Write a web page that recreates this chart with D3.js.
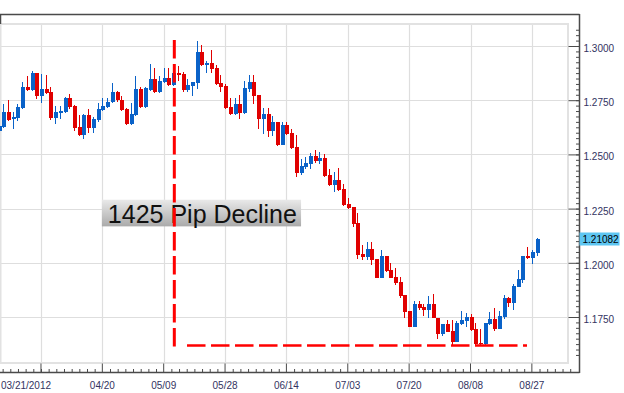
<!DOCTYPE html>
<html><head><meta charset="utf-8">
<script src="https://cdn.jsdelivr.net/npm/d3@7"></script>
<style>
body{margin:0;background:#fff}
svg{display:block;font-family:"Liberation Sans",Arial,sans-serif}
</style>
</head><body>
<svg id="c" width="624" height="393"></svg>
<script>
// ---- data (daily candles, 2012-03-21 .. 2012-08-28, weekdays) ----
const startDate = "2012-03-21", endDate = "2012-08-28";
const open  = [1.2608,1.2627,1.2696,1.2663,1.2668,1.2714,1.2811,1.2797,1.2876,1.2770,1.2802,1.2788,1.2668,1.2691,1.2696,1.2760,1.2723,1.2627,1.2590,1.2682,
               1.2622,1.2659,1.2705,1.2719,1.2742,1.2788,1.2751,1.2710,1.2640,1.2682,1.2802,1.2719,1.2797,1.2848,1.2788,1.2834,1.2853,1.2820,1.2876,1.2871,
               1.2797,1.2816,1.2829,1.2972,1.2912,1.2922,1.2899,1.2829,1.2816,1.2719,1.2687,1.2733,1.2691,1.2802,1.2834,1.2774,1.2663,1.2687,1.2608,1.2650,
               1.2544,1.2636,1.2599,1.2534,1.2415,1.2442,1.2456,1.2493,1.2470,1.2484,1.2405,1.2359,1.2382,1.2341,1.2272,1.2258,1.2184,1.2041,1.2027,1.2064,
               1.2018,1.1931,1.2032,1.1967,1.1935,1.1912,1.1852,1.1778,1.1705,1.1811,1.1797,1.1783,1.1811,1.1746,1.1672,1.1718,1.1686,1.1635,1.1718,1.1732,
               1.1751,1.1695,1.1631,1.1626,1.1718,1.1742,1.1695,1.1751,1.1838,1.1815,1.1889,1.1921,1.2032,1.2023,1.2046];
const high  = [1.2645,1.2733,1.2751,1.2696,1.2733,1.2834,1.2862,1.2885,1.2876,1.2871,1.2866,1.2811,1.2723,1.2723,1.2765,1.2779,1.2728,1.2682,1.2687,1.2710,
               1.2673,1.2737,1.2760,1.2760,1.2829,1.2793,1.2770,1.2714,1.2737,1.2862,1.2811,1.2811,1.2917,1.2899,1.2862,1.2899,1.2899,1.2889,1.2908,1.2880,
               1.2848,1.2834,1.3023,1.3005,1.2931,1.2982,1.2912,1.2866,1.2825,1.2760,1.2760,1.2774,1.2839,1.2866,1.2866,1.2774,1.2714,1.2714,1.2677,1.2650,
               1.2650,1.2650,1.2617,1.2590,1.2479,1.2488,1.2507,1.2521,1.2511,1.2502,1.2433,1.2419,1.2438,1.2364,1.2299,1.2258,1.2230,1.2083,1.2096,1.2096,
               1.2018,1.2060,1.2032,1.2000,1.1977,1.1935,1.1852,1.1778,1.1824,1.1824,1.1811,1.1848,1.1857,1.1746,1.1718,1.1737,1.1737,1.1732,1.1778,1.1769,
               1.1765,1.1723,1.1695,1.1723,1.1774,1.1792,1.1778,1.1852,1.1843,1.1903,1.1967,1.2032,1.2073,1.2060,1.2115];
const low   = [1.2594,1.2622,1.2654,1.2617,1.2654,1.2710,1.2793,1.2793,1.2756,1.2737,1.2779,1.2659,1.2640,1.2663,1.2691,1.2710,1.2608,1.2585,1.2571,1.2599,
               1.2599,1.2650,1.2700,1.2714,1.2737,1.2742,1.2700,1.2636,1.2636,1.2677,1.2714,1.2714,1.2793,1.2783,1.2783,1.2829,1.2816,1.2816,1.2839,1.2788,
               1.2788,1.2770,1.2802,1.2908,1.2876,1.2876,1.2820,1.2788,1.2710,1.2682,1.2682,1.2663,1.2687,1.2788,1.2733,1.2617,1.2594,1.2581,1.2585,1.2539,
               1.2544,1.2590,1.2525,1.2396,1.2405,1.2433,1.2433,1.2461,1.2456,1.2396,1.2355,1.2327,1.2332,1.2262,1.2249,1.2166,1.2018,1.2014,1.2014,1.1990,
               1.1931,1.1931,1.1958,1.1931,1.1898,1.1838,1.1746,1.1705,1.1705,1.1783,1.1755,1.1746,1.1746,1.1649,1.1663,1.1682,1.1617,1.1635,1.1714,1.1705,
               1.1686,1.1622,1.1622,1.1622,1.1714,1.1686,1.1695,1.1742,1.1797,1.1783,1.1889,1.1907,1.2018,1.1995,1.2032];
const close = [1.2631,1.2696,1.2659,1.2673,1.2719,1.2811,1.2797,1.2876,1.2770,1.2802,1.2783,1.2668,1.2696,1.2700,1.2760,1.2719,1.2622,1.2590,1.2682,1.2622,
               1.2663,1.2710,1.2723,1.2742,1.2788,1.2751,1.2705,1.2640,1.2687,1.2802,1.2719,1.2806,1.2848,1.2788,1.2839,1.2853,1.2820,1.2876,1.2866,1.2797,
               1.2820,1.2834,1.2972,1.2912,1.2922,1.2894,1.2825,1.2811,1.2714,1.2687,1.2733,1.2691,1.2806,1.2834,1.2770,1.2663,1.2687,1.2608,1.2650,1.2544,
               1.2636,1.2594,1.2530,1.2415,1.2447,1.2461,1.2493,1.2470,1.2484,1.2401,1.2359,1.2382,1.2336,1.2267,1.2253,1.2179,1.2037,1.2027,1.2064,1.2014,
               1.1931,1.2032,1.1963,1.1931,1.1907,1.1848,1.1774,1.1705,1.1811,1.1792,1.1783,1.1811,1.1746,1.1672,1.1718,1.1682,1.1635,1.1723,1.1737,1.1751,
               1.1691,1.1626,1.1626,1.1723,1.1742,1.1695,1.1755,1.1838,1.1815,1.1894,1.1926,1.2032,1.2023,1.2050,1.2108];
const lastPrice = 1.21082;
const priceTicks = [1.1750, 1.2000, 1.2250, 1.2500, 1.2750, 1.3000];
const priceMinorStep = 0.0025;
const dateTicks = ["2012-04-03","2012-04-20","2012-05-09","2012-05-28","2012-06-14","2012-07-03","2012-07-20","2012-08-08","2012-08-27"];
const dateTickLabels = ["","04/20","05/09","05/28","06/14","07/03","07/20","08/08","08/27"];
const firstDateLabel = "03/21/2012";
const annotationText = "1425 Pip Decline";
// dashed annotation: vertical from swing high down, horizontal along the lows (candle index units)
const vLineIndex = 37.25, vLineTop = 1.3028, vLineBottom = 1.1614;
const hLineFrom = 39.94, hLineTo = 111.97, hLineLevel = 1.1619;
const labelFromIndex = 21.9, labelToIndex = 64.1, labelTop = 1.2291, labelBottom = 1.2168;

// ---- build ----
const fmt = d3.timeFormat("%Y-%m-%d");
const dates = d3.timeDay.range(new Date(startDate+"T00:00"), d3.timeDay.offset(new Date(endDate+"T00:00"),1))
  .filter(d => d.getDay()!==0 && d.getDay()!==6).map(fmt);
const candles = dates.map((d,i)=>({date:d,i,o:open[i],h:high[i],l:low[i],c:close[i]}));
const n = candles.length;

const svg = d3.select("#c");
const W = 624, H = 393;
const plotL = 0, plotR = 568, plotT = 24, plotB = 363;
const frameR = 579, frameT = 14, frameB = 372;

const step = 4.72;
const xBand = d3.scaleBand().domain(dates).range([-3.86, -3.86 + step*n]).padding(0);
const xc = d => xBand(d) + xBand.bandwidth()/2;
const xIdx = d3.scaleLinear().domain([0, n-1]).range([xc(dates[0]), xc(dates[n-1])]);
const y = d3.scaleLinear().domain([1.175, 1.300]).range([317, 46]);

const gridColor = "#dedede";
const frameColor = "#4a4a4a";
const textColor = "#33335f";

// plot background & grid
const plot = svg.append("g");
plot.selectAll("line.hg").data(priceTicks).join("line")
  .attr("x1", plotL).attr("x2", plotR)
  .attr("y1", d=>Math.round(y(d))+0.5).attr("y2", d=>Math.round(y(d))+0.5)
  .attr("stroke", gridColor).attr("stroke-width",1.2);
plot.selectAll("line.vg").data(dateTicks).join("line")
  .attr("x1", d=>Math.round(xc(d))+0.5).attr("x2", d=>Math.round(xc(d))+0.5)
  .attr("y1", plotT).attr("y2", plotB)
  .attr("stroke", gridColor).attr("stroke-width",1.2);
// plot inner border
plot.append("rect").attr("x", plotL+0.5).attr("y", plotT).attr("width", plotR-plotL-0.5).attr("height", plotB-plotT)
  .attr("fill","none").attr("stroke","#e2e2e2").attr("stroke-width",2);

// candles
const cg = svg.append("g").attr("shape-rendering","crispEdges");
const up = "#0a62c8", dn = "#e00000";
const col = d => d.c >= d.o ? up : dn;
cg.selectAll("line.w").data(candles).join("line")
  .attr("x1", d=>Math.round(xc(d.date))+0.5).attr("x2", d=>Math.round(xc(d.date))+0.5)
  .attr("y1", d=>y(d.h)).attr("y2", d=>y(d.l))
  .attr("stroke", col).attr("stroke-width",1);
cg.selectAll("rect.b").data(candles).join("rect")
  .attr("x", d=>Math.round(xc(d.date))-1.5).attr("width", 4)
  .attr("y", d=>Math.min(y(d.o),y(d.c)))
  .attr("height", d=>Math.max(1.5, Math.abs(y(d.o)-y(d.c))))
  .attr("fill", col);

// frame
svg.append("line").attr("x1",0).attr("x2",frameR+0.5).attr("y1",frameT+0.5).attr("y2",frameT+0.5).attr("stroke",frameColor).attr("stroke-width",1.5);
svg.append("line").attr("x1",0.5).attr("x2",0.5).attr("y1",frameT).attr("y2",plotT).attr("stroke",frameColor).attr("stroke-width",1.5);

// right axis
const yMinor = d3.range(1.1575, 1.3080, priceMinorStep).filter(v => y(v) >= plotT && y(v) <= plotB+1);
const yA = svg.append("g").attr("transform",`translate(${frameR+0.5},0)`);
yA.append("g").call(d3.axisLeft(y).tickValues(yMinor).tickSize(3.5).tickFormat(""))
  .call(g=>g.select(".domain").remove());
yA.append("g").call(d3.axisLeft(y).tickValues(priceTicks).tickSize(11).tickFormat(""))
  .call(g=>g.select(".domain").remove());
yA.append("g").call(d3.axisRight(y).tickValues(priceTicks).tickSize(0).tickPadding(4).tickFormat(d3.format(".4f")))
  .call(g=>g.select(".domain").remove())
  .call(g=>g.selectAll("text").attr("fill",textColor).attr("font-size",10).attr("font-family","Liberation Sans, Arial, sans-serif").attr("dy","0.55em"));
yA.selectAll("line").attr("stroke",frameColor);
svg.append("line").attr("x1",frameR+0.5).attr("x2",frameR+0.5).attr("y1",frameT).attr("y2",frameB+1).attr("stroke",frameColor).attr("stroke-width",1.5);

// bottom axis
const majorIdx = dateTicks.map(d=>dates.indexOf(d));
const sub = (majorIdx[1]-majorIdx[0])/8;
const xMinor = [];
for (let v = majorIdx[0]; v > xIdx.invert(1); v -= sub) xMinor.push(v);
for (let k=0;k<majorIdx.length-1;k++) for (let j=1;j<8;j++) xMinor.push(majorIdx[k]+j*sub);
for (let v = majorIdx[majorIdx.length-1]+sub; xIdx(v) < frameR-2; v += sub) xMinor.push(v);
const xA = svg.append("g").attr("transform",`translate(0,${frameB+0.5})`);
xA.append("g").call(d3.axisTop(xIdx).tickValues(xMinor).tickSize(3.5).tickFormat(""))
  .call(g=>g.select(".domain").remove());
xA.append("g").call(d3.axisTop(xBand).tickValues(dateTicks).tickSize(9).tickFormat(""))
  .call(g=>g.select(".domain").remove());
xA.append("g").call(d3.axisBottom(xBand).tickValues(dateTicks).tickSize(0).tickPadding(9).tickFormat((d,i)=>dateTickLabels[i]))
  .call(g=>g.select(".domain").remove())
  .call(g=>g.selectAll("text").attr("fill",textColor).attr("font-size",10).attr("font-family","Liberation Sans, Arial, sans-serif"));
xA.selectAll("line").attr("stroke",frameColor);
xA.append("text").attr("x",1).attr("y",9).attr("dy","0.71em").attr("fill",textColor)
  .attr("font-size",10).attr("font-family","Liberation Sans, Arial, sans-serif").text(firstDateLabel);
svg.append("line").attr("x1",0).attr("x2",frameR+0.5).attr("y1",frameB+0.5).attr("y2",frameB+0.5).attr("stroke",frameColor).attr("stroke-width",1.5);

// last price tag
const lp = svg.append("g");
lp.append("rect").attr("x",frameR+0.5).attr("y",Math.round(y(lastPrice))-6.5).attr("width",40).attr("height",13).attr("fill","#5ec6f2");
lp.append("text").attr("x",frameR+3.5).attr("y",y(lastPrice)).attr("dy","0.36em").attr("font-size",10)
  .attr("fill","#000").text(d3.format(".5f")(lastPrice));

// annotation label box
const defs = svg.append("defs");
const gr = defs.append("linearGradient").attr("id","lg").attr("x1",0).attr("y1",0).attr("x2",0).attr("y2",1);
gr.append("stop").attr("offset","0%").attr("stop-color","#e9e9e9");
gr.append("stop").attr("offset","100%").attr("stop-color","#aaaaaa");
const bx0 = xIdx(labelFromIndex), bx1 = xIdx(labelToIndex), by0 = y(labelTop), by1 = y(labelBottom);
svg.append("rect").attr("x",bx0).attr("y",by0).attr("width",bx1-bx0).attr("height",by1-by0).attr("fill","url(#lg)");
svg.append("text").attr("x",bx0+6).attr("y",by1-3.5).attr("font-size",25).attr("fill","#111")
  .attr("font-family","Liberation Sans, Arial, sans-serif").text(annotationText);

// dashed annotation lines
svg.append("line").attr("x1",xIdx(vLineIndex)).attr("x2",xIdx(vLineIndex))
  .attr("y1",y(vLineTop)).attr("y2",y(vLineBottom))
  .attr("stroke","#ff0000").attr("stroke-width",3).attr("stroke-dasharray","18.5,5.5");
svg.append("line").attr("x1",xIdx(hLineFrom)).attr("x2",xIdx(hLineTo))
  .attr("y1",y(hLineLevel)).attr("y2",y(hLineLevel))
  .attr("stroke","#ff0000").attr("stroke-width",2.5).attr("stroke-dasharray","18.5,5.5");
</script>
</body></html>
